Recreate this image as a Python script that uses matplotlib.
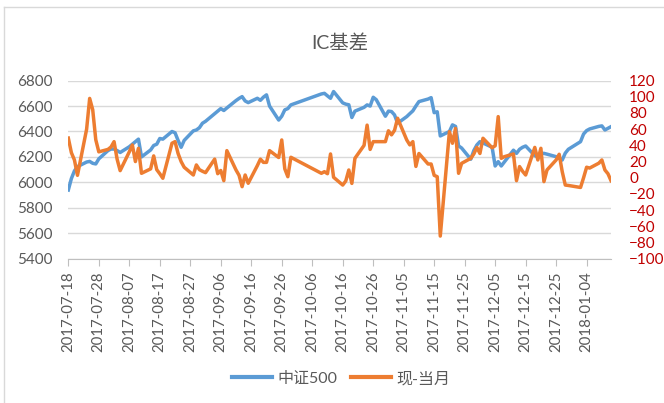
#!/usr/bin/env python3

import matplotlib
matplotlib.use('Agg')
import matplotlib.pyplot as plt
import matplotlib.dates as mdates
import pandas as pd
from matplotlib.lines import Line2D

# trading days and values
dates = [
    '2017-07-18', '2017-07-19', '2017-07-20', '2017-07-21', '2017-07-24', '2017-07-25', '2017-07-26', '2017-07-27', '2017-07-28', '2017-07-31',
    '2017-08-01', '2017-08-02', '2017-08-03', '2017-08-04', '2017-08-07', '2017-08-08', '2017-08-09', '2017-08-10', '2017-08-11',
    '2017-08-14', '2017-08-15', '2017-08-16', '2017-08-17', '2017-08-18', '2017-08-21', '2017-08-22', '2017-08-23', '2017-08-24', '2017-08-25',
    '2017-08-28', '2017-08-29', '2017-08-30', '2017-08-31', '2017-09-01',
    '2017-09-04', '2017-09-05', '2017-09-06', '2017-09-07', '2017-09-08', '2017-09-11', '2017-09-12', '2017-09-13', '2017-09-14', '2017-09-15',
    '2017-09-18', '2017-09-19', '2017-09-20', '2017-09-21', '2017-09-22', '2017-09-25', '2017-09-26', '2017-09-27', '2017-09-28', '2017-09-29',
    '2017-10-09', '2017-10-10', '2017-10-11', '2017-10-12', '2017-10-13', '2017-10-16', '2017-10-17', '2017-10-18', '2017-10-19', '2017-10-20',
    '2017-10-23', '2017-10-24', '2017-10-25', '2017-10-26', '2017-10-27', '2017-10-30', '2017-10-31',
    '2017-11-01', '2017-11-02', '2017-11-03', '2017-11-06', '2017-11-07', '2017-11-08', '2017-11-09', '2017-11-10',
    '2017-11-13', '2017-11-14', '2017-11-15', '2017-11-16', '2017-11-17', '2017-11-20', '2017-11-21', '2017-11-22', '2017-11-23', '2017-11-24',
    '2017-11-27', '2017-11-28', '2017-11-29', '2017-11-30', '2017-12-01',
    '2017-12-04', '2017-12-05', '2017-12-06', '2017-12-07', '2017-12-08', '2017-12-11', '2017-12-12', '2017-12-13', '2017-12-14', '2017-12-15',
    '2017-12-18', '2017-12-19', '2017-12-20', '2017-12-21', '2017-12-22', '2017-12-25', '2017-12-26', '2017-12-27', '2017-12-28', '2017-12-29',
    '2018-01-02', '2018-01-03', '2018-01-04', '2018-01-05', '2018-01-08', '2018-01-09', '2018-01-10', '2018-01-11', '2018-01-12',
]

csi500 = [
    5940, 6030, 6090, 6124, 6160, 6165, 6150, 6145, 6185, 6250,
    6262, 6262, 6250, 6235, 6280, 6300, 6320, 6340, 6200,
    6255, 6290, 6300, 6345, 6340, 6400, 6390, 6330, 6276, 6330,
    6405, 6412, 6430, 6465, 6480,
    6540, 6560, 6580, 6565, 6585, 6643, 6660, 6674, 6640, 6627,
    6661, 6645, 6670, 6688, 6600, 6490, 6520, 6570, 6580, 6609,
    6695, 6700, 6680, 6661, 6714, 6625, 6615, 6610, 6510, 6560,
    6590, 6609, 6600, 6669, 6650, 6520, 6560,
    6557, 6530, 6465, 6517, 6540, 6562, 6600, 6635,
    6655, 6666, 6548, 6555, 6365, 6400, 6452, 6440, 6287, 6270,
    6182, 6250, 6294, 6320, 6310,
    6276, 6129, 6163, 6129, 6160, 6253, 6228, 6260, 6276, 6286,
    6210, 6202, 6228, 6228, 6222, 6202, 6190, 6176, 6230, 6260,
    6320, 6380, 6407, 6420, 6440, 6444, 6412, 6425, 6438,
]

basis = [
    49, 31, 22, 3, 60, 98, 84, 47, 32, 35,
    38, 44.6, 23, 8.8, 32, 40.5, 20, 36.4, 5.5,
    11, 27, 10, 5, -0.6, 42.6, 44.6, 30, 20, 13,
    3.4, 15.8, 10, 8, 6.3,
    23, 5, 9, -3.6, 33.5, 9.6, 3, -11, 3.4, -6.8,
    15, 23, 19, 19, 33.5, 25, 46.7, 11, 1.3, 25.3,
    5.5, 7.5, 5, 29.4, 0.6, -9, -4, 9.6, -7, 24,
    40, 65, 35, 44.6, 44.6, 44.6, 58,
    53, 58.6, 73.5, 46.7, 40.6, 44.6, 14, 30,
    17, 17, 3, 1.3, -72, 57, 42.6, 61, 5.5, 17.8,
    24, 29.4, 37.5, 30, 48.8,
    37, 39.5, 75.5, 24, 26, 29.4, -3.6, 13.8, 8, 3.4,
    37.5, 22, 36.4, -4.8, 9.6, 22, 29, 7.5, -9, -9.5,
    -12, 0, 13, 12, 18, 22, 9.6, 5, -3.6,
]

series_names = ['中证500', '现-当月']
title = 'IC基差'

plt.rcParams['font.family'] = ['Lato', 'Noto Sans CJK SC', 'DejaVu Sans']

x = pd.to_datetime(dates)
ticks = pd.date_range('2017-07-18', '2018-01-04', freq='10D')

fig = plt.figure(figsize=(6.64, 4.03), dpi=100)
ax = fig.add_axes([0.1029, 0.358, 0.8173, 0.442])
ax2 = ax.twinx()

blue = '#5B9BD5'
orange = '#ED7D31'
gray = '#595959'

ax.plot(x, csi500, color=blue, lw=2.5, solid_joinstyle='round', zorder=3)
ax2.plot(x, basis, color=orange, lw=2.5, solid_joinstyle='round', zorder=3)

ax.set_ylim(5400, 6800)
ax.set_yticks(range(5400, 6801, 200))
ax2.set_ylim(-100, 120)
ax2.set_yticks(range(-100, 121, 20))
ax.set_xlim(pd.Timestamp('2017-07-18'), pd.Timestamp('2018-01-12'))
ax.set_xticks(ticks)
ax.xaxis.set_major_formatter(mdates.DateFormatter('%Y-%m-%d'))

ax.grid(axis='y', color='#D9D9D9', lw=1)
ax.set_axisbelow(True)
for a in (ax, ax2):
    for s in a.spines.values():
        s.set_visible(False)
ax.spines['bottom'].set_visible(True)
ax.spines['bottom'].set_color('#BFBFBF')

ax.tick_params(axis='y', length=0, pad=11, labelsize=11, labelcolor=gray)
ax.tick_params(axis='x', length=5, color='#BFBFBF', pad=4, labelsize=10.8,
               labelcolor=gray, labelrotation=90)
ax2.tick_params(axis='y', length=0, pad=13, labelsize=11, labelcolor='#C00000')
for lab in ax2.get_yticklabels():
    lab.set_horizontalalignment('left')

fig.text(0.5116, 0.893, title, ha='center', va='center', fontsize=14, color=gray)

handles = [Line2D([], [], color=blue, lw=3), Line2D([], [], color=orange, lw=3)]
fig.legend(handles, series_names, loc='center', bbox_to_anchor=(0.514, 0.06),
           ncol=2, frameon=False, fontsize=11.5, labelcolor=gray,
           handlelength=2.5, handletextpad=0.3, columnspacing=0.9)

# chart border (only left and top visible in the crop)
fig.add_artist(Line2D([0.006, 0.006], [0, 0.983], color='#D9D9D9', lw=1))
fig.add_artist(Line2D([0.006, 1], [0.983, 0.983], color='#D9D9D9', lw=1))

plt.savefig('out.png', dpi=100)
